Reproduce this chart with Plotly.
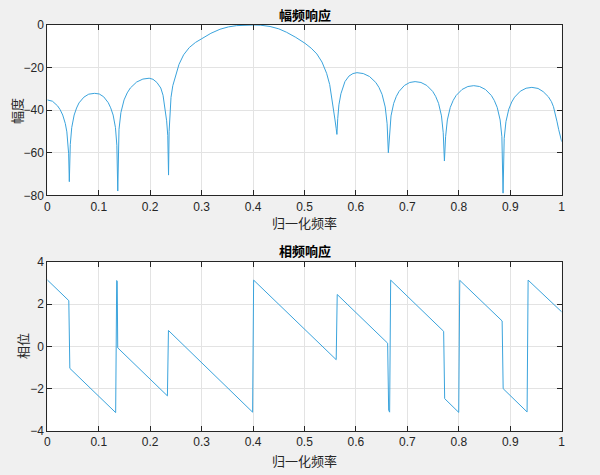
import plotly.graph_objects as go

# ---- magnitude response ----
mag_freq = [
    0.0, 0.010, 0.020, 0.025, 0.030, 0.035, 0.038, 0.040, 0.0415, 0.0428,
    0.0447, 0.0475, 0.0522, 0.0569, 0.0616, 0.0711, 0.0805, 0.0920, 0.1010, 0.1095,
    0.1185, 0.1232, 0.1280, 0.1325, 0.1352, 0.1370,
    0.1394, 0.1431, 0.1492, 0.1553, 0.1614, 0.1736, 0.1858, 0.1980, 0.2055, 0.2131,
    0.2206, 0.2250, 0.2285, 0.2320, 0.2342, 0.2357,
    0.2368, 0.2382, 0.2405, 0.2440, 0.2490, 0.2560, 0.2650, 0.2760, 0.2880, 0.3000,
    0.3180, 0.3357, 0.3520, 0.3680, 0.3850, 0.4000, 0.4150, 0.4330, 0.4500, 0.4650,
    0.4830, 0.5010, 0.5130, 0.5240, 0.5340, 0.5430, 0.5490, 0.5530, 0.5565, 0.5593,
    0.5615, 0.5630,
    0.5646, 0.5669, 0.5708, 0.5747, 0.5786, 0.5864, 0.5942, 0.6020, 0.6142, 0.6264,
    0.6386, 0.6447, 0.6508, 0.6569, 0.6606, 0.6630,
    0.6651, 0.6682, 0.6734, 0.6786, 0.6838, 0.6942, 0.7046, 0.7150, 0.7264, 0.7378,
    0.7492, 0.7549, 0.7606, 0.7663, 0.7697, 0.7720,
    0.7743, 0.7777, 0.7834, 0.7891, 0.7948, 0.8062, 0.8176, 0.8290, 0.8404, 0.8518,
    0.8632, 0.8689, 0.8746, 0.8803, 0.8837, 0.8860,
    0.8882, 0.8916, 0.8972, 0.9028, 0.9084, 0.9196, 0.9308, 0.9420, 0.9540, 0.9640,
    0.9740, 0.9800, 0.9840, 0.9880, 0.9910, 0.9940, 0.9970, 1.0000,
]
mag_db = [
    -35.2, -35.8, -38.0, -39.8, -42.3, -46.3, -50.2, -54.6, -60.5, -73.6,
    -56.1, -48.2, -42.3, -39.0, -36.6, -33.9, -32.5, -32.1, -32.4, -33.7,
    -36.5, -38.9, -42.3, -48.2, -56.5, -78.0,
    -49.0, -41.1, -35.2, -31.9, -29.6, -26.8, -25.4, -25.0, -25.5, -27.0,
    -29.6, -33.0, -38.0, -45.0, -52.0, -70.5,
    -50.0, -41.0, -34.0, -28.5, -23.8, -18.5, -14.0, -10.6, -8.2, -6.5,
    -3.9, -2.0, -0.9, -0.3, -0.05, 0.0, -0.1, -0.7, -1.8, -3.4,
    -5.8, -8.6, -10.9, -13.6, -17.4, -22.7, -28.0, -33.7, -38.5, -44.6,
    -48.5, -51.4,
    -44.0, -37.5, -32.3, -29.0, -26.6, -24.0, -22.8, -22.4, -22.8, -24.2,
    -27.0, -29.3, -32.6, -38.5, -46.4, -60.0,
    -50.6, -42.7, -36.8, -33.5, -31.2, -28.4, -27.0, -26.6, -27.0, -28.4,
    -31.2, -33.5, -36.8, -42.7, -50.6, -63.9,
    -52.5, -44.6, -38.7, -35.4, -33.1, -30.3, -28.9, -28.5, -28.9, -30.3,
    -33.1, -35.4, -38.7, -44.6, -52.5, -79.0,
    -53.3, -45.4, -39.5, -36.2, -33.9, -31.1, -29.7, -29.3, -29.8, -31.3,
    -33.7, -36.0, -38.4, -42.0, -45.5, -49.0, -52.0, -54.8,
]

# ---- phase response vertices ----
phase_freq = [
    0.0, 0.0418, 0.0438, 0.1329, 0.1349, 0.1359, 0.1369, 0.2335, 0.2355, 0.3991,
    0.4011, 0.5616, 0.5636, 0.6616, 0.6636, 0.6655, 0.6675, 0.7705, 0.7725, 0.7998,
    0.8018, 0.8842, 0.8862, 0.9327, 0.9347, 1.0,
]
phase_rad = [
    3.14, 2.16, -1.04, -3.13, 3.11, 3.08, -0.07, -2.34, 0.75, -3.11,
    3.13, -0.63, 2.45, 0.15, -3.02, -3.11, 3.13, 0.71, -2.47, -3.12,
    3.12, 1.20, -2.00, -3.10, 3.13, 1.63,
]

x_ticks = [0, 0.1, 0.2, 0.3, 0.4, 0.5, 0.6, 0.7, 0.8, 0.9, 1]
x_ticktext = ["0", "0.1", "0.2", "0.3", "0.4", "0.5", "0.6", "0.7", "0.8", "0.9", "1"]
mag_ticks = [-80, -60, -40, -20, 0]
phase_ticks = [-4, -2, 0, 2, 4]

title_mag = "幅频响应"
title_phase = "相频响应"
xlabel = "归一化频率"
ylabel_mag = "幅度"
ylabel_phase = "相位"

W, H = 600, 475
LINE = "#3aa3dc"
AX = "#262626"
GRID = "#e3e3e3"
TICKFONT = dict(family="Liberation Sans, Arial, sans-serif", size=12, color=AX)
CJK = "Noto Sans CJK SC"

fig = go.Figure()
fig.add_trace(go.Scatter(x=mag_freq, y=mag_db, mode="lines",
                         line=dict(color=LINE, width=1), xaxis="x", yaxis="y",
                         showlegend=False, hoverinfo="skip"))
fig.add_trace(go.Scatter(x=phase_freq, y=phase_rad, mode="lines",
                         line=dict(color=LINE, width=1), xaxis="x2", yaxis="y2",
                         showlegend=False, hoverinfo="skip"))

def px_x(p):
    return p / W

def px_y(p):
    return 1 - p / H

common_axis = dict(showline=True, linecolor=AX, linewidth=1, mirror="ticks",
                   ticks="inside", ticklen=5, tickcolor=AX, tickwidth=1,
                   showgrid=True, gridcolor=GRID, gridwidth=1, zeroline=False,
                   automargin=False, tickfont=TICKFONT)

xdom = [px_x(47.3), px_x(561.7)]
fig.update_layout(
    width=W, height=H,
    margin=dict(l=0, r=0, t=0, b=0, pad=0, autoexpand=False),
    paper_bgcolor="#f0f0f0",
    plot_bgcolor="#ffffff",
    xaxis=dict(domain=xdom, range=[0, 1], tickvals=x_ticks, ticktext=x_ticktext,
               anchor="y", **common_axis),
    yaxis=dict(domain=[px_y(195.3), px_y(25)], range=[-80, 0], tickvals=mag_ticks,
               anchor="x", **common_axis),
    xaxis2=dict(domain=xdom, range=[0, 1], tickvals=x_ticks, ticktext=x_ticktext,
                anchor="y2", **common_axis),
    yaxis2=dict(domain=[px_y(431), px_y(261.7)], range=[-4, 4], tickvals=phase_ticks,
                anchor="x2", **common_axis),
)

ann = []
cx = (xdom[0] + xdom[1]) / 2
ann.append(dict(text="<b>" + title_mag + "</b>", x=cx, y=px_y(14), xref="paper", yref="paper",
                showarrow=False, xanchor="center", yanchor="middle",
                font=dict(family=CJK, size=13, color="#000000")))
ann.append(dict(text="<b>" + title_phase + "</b>", x=cx, y=px_y(250), xref="paper", yref="paper",
                showarrow=False, xanchor="center", yanchor="middle",
                font=dict(family=CJK, size=13, color="#000000")))
ann.append(dict(text=xlabel, x=cx, y=px_y(222), xref="paper", yref="paper",
                showarrow=False, xanchor="center", yanchor="middle",
                font=dict(family=CJK, size=13, color=AX)))
ann.append(dict(text=xlabel, x=cx, y=px_y(460), xref="paper", yref="paper",
                showarrow=False, xanchor="center", yanchor="middle",
                font=dict(family=CJK, size=13, color=AX)))
ann.append(dict(text=ylabel_mag, x=px_x(16), y=px_y(111), xref="paper", yref="paper",
                showarrow=False, xanchor="center", yanchor="middle", textangle=-90,
                font=dict(family=CJK, size=13, color=AX)))
ann.append(dict(text=ylabel_phase, x=px_x(22), y=px_y(346), xref="paper", yref="paper",
                showarrow=False, xanchor="center", yanchor="middle", textangle=-90,
                font=dict(family=CJK, size=13, color=AX)))
fig.update_layout(annotations=ann)

fig.write_html("out.html",
               config={"displayModeBar": False},
               post_script="document.body.style.margin='0';document.body.style.padding='0';")
